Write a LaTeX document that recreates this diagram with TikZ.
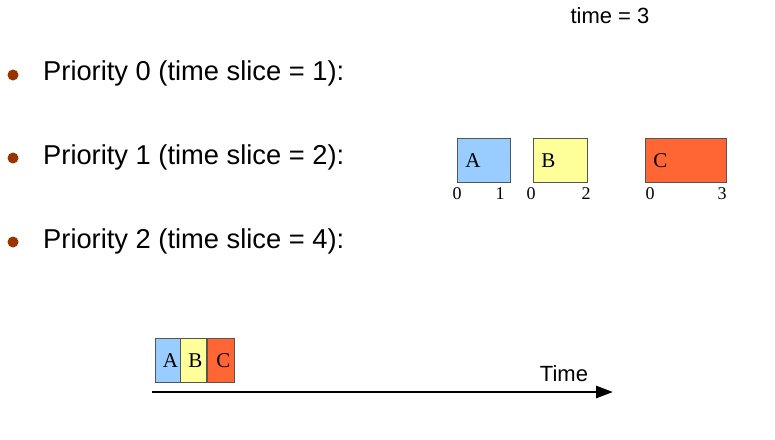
\documentclass[tikz,border=0pt]{standalone}
\usepackage{fontspec}
\setmainfont{Liberation Sans}
\newfontfamily\boxfont{Liberation Serif}
\usetikzlibrary{arrows.meta}

\definecolor{bulletbrown}{HTML}{993300}
\definecolor{boxgray}{HTML}{555555}
\definecolor{sliceA}{HTML}{99CCFF}
\definecolor{sliceB}{HTML}{FFFF99}
\definecolor{sliceC}{HTML}{FF6633}

\tikzset{
    prio/.style={anchor=west, inner sep=0pt, font=\fontsize{27.3}{30}\selectfont},
    bulletdot/.style={circle, fill=bulletbrown, inner sep=0pt, minimum size=11pt},
    slice/.style={draw=boxgray, line width=0.8pt, fill=#1, anchor=north west,
        minimum height=44pt, inner xsep=8pt, inner ysep=0pt, align=left,
        font=\boxfont\fontsize{21}{24}\selectfont},
    runslice/.style={draw=boxgray, line width=0.8pt, fill=#1, anchor=north west,
        minimum height=44pt, inner sep=0pt,
        font=\boxfont\fontsize{21}{24}\selectfont},
    tick/.style={inner sep=0pt, font=\boxfont\fontsize{18}{20}\selectfont},
}

\begin{document}
\begin{tikzpicture}[x=1pt, y=-1pt]
    \useasboundingbox (0,0) rectangle (775,439);

    \node[inner sep=0pt, font=\fontsize{22}{24}\selectfont] (clock) at (610, 16) {time = 3};

    % priority levels
    \node[bulletdot] (dot0) at (13, 75) {};
    \node[bulletdot] (dot1) at (13, 158) {};
    \node[bulletdot] (dot2) at (13, 242) {};
    \node[prio] (prio0) at (43, 73) {Priority 0 (time slice = 1):};
    \node[prio] (prio1) at (43, 157) {Priority 1 (time slice = 2):};
    \node[prio] (prio2) at (43, 241) {Priority 2 (time slice = 4):};

    % queue of priority 1
    \node[slice=sliceA, minimum width=53pt, text width=37pt] (qA) at (457, 138) {A};
    \node[slice=sliceB, minimum width=54pt, text width=38pt] (qB) at (533, 138) {B};
    \node[slice=sliceC, minimum width=81pt, text width=65pt] (qC) at (645, 138) {C};

    \node[tick] (qA0) at (457, 194) {0};
    \node[tick] (qA1) at (500, 194) {1};
    \node[tick] (qB0) at (531, 194) {0};
    \node[tick] (qB2) at (586, 194) {2};
    \node[tick] (qC0) at (650, 194) {0};
    \node[tick] (qC3) at (722, 194) {3};

    % what has run so far
    \node[runslice=sliceA, minimum width=25pt] (runA) at (155, 338) {\hspace*{5pt}A};
    \node[runslice=sliceB, minimum width=26pt] (runB) at (180, 338) {\hspace*{4pt}B};
    \node[runslice=sliceC, minimum width=27pt] (runC) at (207, 338) {\hspace*{5pt}C};

    \coordinate (t0) at (152, 392);
    \coordinate (t1) at (613, 392);
    \draw[line width=2.8pt, -{Triangle[length=17pt, width=12pt]}] (t0) -- (t1);
    \node[inner sep=0pt, font=\fontsize{22}{24}\selectfont] (timelbl) at (564, 374) {Time};
\end{tikzpicture}
\end{document}
